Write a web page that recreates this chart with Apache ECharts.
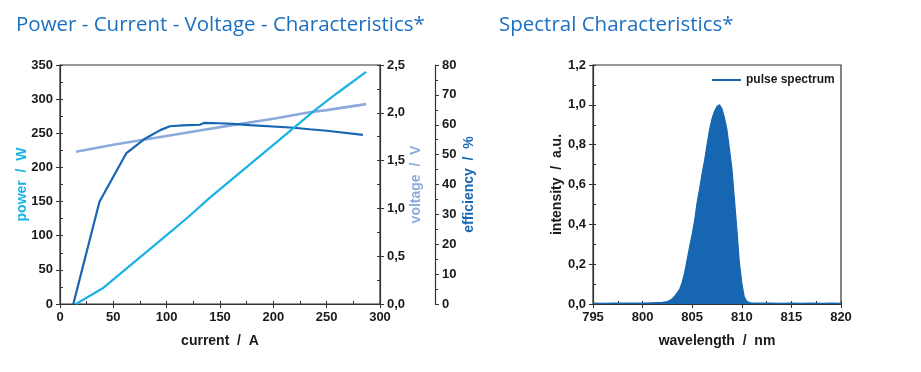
<!DOCTYPE html>
<html>
<head>
<meta charset="utf-8">
<script src="https://cdn.jsdelivr.net/npm/echarts@6/dist/echarts.min.js"></script>
<style>
html,body{margin:0;padding:0;background:#fff;}
#c{width:921px;height:372px;}
</style>
</head>
<body>
<div id="c"></div>
<script>
// ---- Data ----
const powerCurrent = [15, 40, 60, 80, 100, 120, 140, 160, 180, 200, 220, 240, 260, 287];
const powerValues  = [0, 23, 49, 75, 101, 127, 155, 181, 207, 233, 259, 285, 309, 340];

const voltageCurrent = [15, 50, 84, 100, 131, 150, 200, 234, 250, 287];
const voltageValues  = [1.593, 1.665, 1.728, 1.758, 1.815, 1.85, 1.937, 2.005, 2.028, 2.091];

const effCurrent = [12.5, 37, 62, 80, 94, 103, 115, 131, 135, 150, 162, 178, 219, 234, 250, 284];
const effValues  = [0, 34.2, 50.4, 55.4, 58.2, 59.5, 59.8, 60.0, 60.6, 60.5, 60.3, 59.9, 59.0, 58.5, 58.0, 56.6];

const wavelength = [795, 796, 797, 798, 799, 800, 801, 802, 802.5, 802.75, 803, 803.25, 803.5, 803.75,
  804, 804.25, 804.5, 804.75, 805, 805.25, 805.5, 805.75, 806, 806.25, 806.5, 806.75,
  807, 807.25, 807.5, 807.75, 808, 808.25, 808.5, 808.75, 809, 809.25, 809.5, 809.75,
  810, 810.25, 810.5, 810.75, 811, 812, 813, 814, 815, 816, 817, 818, 819, 820];
const intensity = [0.004, 0.003, 0.005, 0.004, 0.005, 0.004, 0.006, 0.008, 0.012, 0.018, 0.027, 0.04, 0.057, 0.075,
  0.11, 0.16, 0.225, 0.29, 0.35, 0.42, 0.51, 0.58, 0.655, 0.72, 0.80, 0.875,
  0.93, 0.968, 0.992, 1.0, 0.98, 0.935, 0.875, 0.78, 0.68, 0.53, 0.375, 0.21,
  0.105, 0.035, 0.013, 0.007, 0.005, 0.004, 0.005, 0.003, 0.004, 0.003, 0.004, 0.003, 0.004, 0.003];

const currentTicks = [0, 300, 50];
const powerTicks = [0, 350, 50];
const voltageTicks = [0, 2.5, 0.5];
const effTicks = [0, 80, 10];
const wlTicks = [795, 820, 5];
const intTicks = [0, 1.2, 0.2];

// ---- Style ----
const C_POWER = '#1ab2e4';
const C_VOLT = '#8eaadc';
const C_EFF = '#1766b4';
const C_SPEC = '#1666b2';
const C_TITLE = '#1d6fc0';
const AX = '#333';
const FONT = 'Liberation Sans, Arial, sans-serif';
const comma = v => v.toFixed(1).replace('.', ',');

const lbl = (extra) => Object.assign({color: '#1a1a1a', fontFamily: FONT, fontWeight: 'bold', fontSize: 13}, extra || {});
const nameStyle = (color) => ({color: color, fontFamily: FONT, fontWeight: 'bold', fontSize: 14});

function mainAxis(o) {
  return Object.assign({
    type: 'value',
    axisLine: {show: true, onZero: false, lineStyle: {color: AX, width: 1.2}},
    axisTick: {show: true, length: 4, lineStyle: {color: AX}},
    minorTick: {show: false},
    splitLine: {show: false},
    axisLabel: lbl({margin: 7})
  }, o);
}
function innerTicks(o) {
  return Object.assign({
    type: 'value',
    axisLine: {show: false, onZero: false},
    axisTick: {show: true, inside: true, length: 3, lineStyle: {color: AX}},
    axisLabel: {show: false},
    splitLine: {show: false}
  }, o);
}

const pairs = (xs, ys) => xs.map((x, i) => [x, ys[i]]);

const chart = echarts.init(document.getElementById('c'), null, {renderer: 'canvas'});
chart.setOption({
  animation: false,
  backgroundColor: '#fff',
  title: [
    {text: 'Power - Current - Voltage - Characteristics*', left: 11, top: 10,
     textStyle: {color: C_TITLE, fontFamily: 'Open Sans', fontWeight: 'normal', fontSize: 20.5}},
    {text: 'Spectral Characteristics*', left: 494, top: 10,
     textStyle: {color: C_TITLE, fontFamily: 'Open Sans', fontWeight: 'normal', fontSize: 20.5}}
  ],
  legend: {
    data: [{name: 'pulse spectrum', icon: 'rect'}],
    left: 707, top: 69,
    itemWidth: 29, itemHeight: 2,
    textStyle: {color: '#1a1a1a', fontFamily: FONT, fontWeight: 'bold', fontSize: 12},
    selectedMode: false
  },
  grid: [
    {left: 60, top: 65, width: 320, height: 239, show: true, borderColor: AX, borderWidth: 1.2, outerBoundsMode: 'none', containLabel: false},
    {left: 593, top: 65, width: 248, height: 239, show: true, borderColor: AX, borderWidth: 1.2, outerBoundsMode: 'none', containLabel: false}
  ],
  xAxis: [
    mainAxis({gridIndex: 0, min: currentTicks[0], max: currentTicks[1], interval: currentTicks[2], position: 'bottom',
      name: 'current  /  A', nameLocation: 'middle', nameGap: 30, nameTextStyle: nameStyle('#1a1a1a')}),
    innerTicks({gridIndex: 0, min: 0, max: 300, interval: 25, position: 'bottom'}),
    mainAxis({gridIndex: 1, min: wlTicks[0], max: wlTicks[1], interval: wlTicks[2], position: 'bottom',
      name: 'wavelength  /  nm', nameLocation: 'middle', nameGap: 30, nameTextStyle: nameStyle('#1a1a1a')}),
    innerTicks({gridIndex: 1, min: 795, max: 820, interval: 2.5, position: 'bottom'})
  ],
  yAxis: [
    mainAxis({gridIndex: 0, min: powerTicks[0], max: powerTicks[1], interval: powerTicks[2], position: 'left',
      name: 'power  /  W', nameLocation: 'middle', nameGap: 31, nameMoveOverlap: false, nameTextStyle: nameStyle(C_POWER)}),
    mainAxis({gridIndex: 0, min: voltageTicks[0], max: voltageTicks[1], interval: voltageTicks[2], position: 'right',
      axisLabel: lbl({margin: 7, formatter: comma}),
      name: 'voltage  /  V', nameLocation: 'middle', nameGap: 28, nameTextStyle: nameStyle(C_VOLT)}),
    mainAxis({gridIndex: 0, min: effTicks[0], max: effTicks[1], interval: effTicks[2], position: 'right', offset: 55,
      minorTick: {show: true, splitNumber: 2, length: 3, lineStyle: {color: AX}},
      name: 'efficiency  /  %', nameLocation: 'middle', nameGap: 27, nameTextStyle: nameStyle(C_EFF)}),
    innerTicks({gridIndex: 0, min: 0, max: 350, interval: 25, position: 'left'}),
    innerTicks({gridIndex: 0, min: 0, max: 2.5, interval: 0.25, position: 'right'}),
    mainAxis({gridIndex: 1, min: intTicks[0], max: intTicks[1], interval: intTicks[2], position: 'left',
      axisLabel: lbl({margin: 7, formatter: comma}),
      name: 'intensity  /  a.u.', nameLocation: 'middle', nameGap: 29, nameTextStyle: nameStyle('#1a1a1a')}),
    innerTicks({gridIndex: 1, min: 0, max: 1.2, interval: 0.1, position: 'left'})
  ],
  series: [
    {name: 'voltage', type: 'line', xAxisIndex: 0, yAxisIndex: 1, data: pairs(voltageCurrent, voltageValues),
     symbol: 'none', lineStyle: {color: C_VOLT, width: 2.6}, z: 2},
    {name: 'efficiency', type: 'line', xAxisIndex: 0, yAxisIndex: 2, data: pairs(effCurrent, effValues),
     symbol: 'none', lineStyle: {color: C_EFF, width: 2.2}, z: 3},
    {name: 'power', type: 'line', xAxisIndex: 0, yAxisIndex: 0, data: pairs(powerCurrent, powerValues),
     symbol: 'none', lineStyle: {color: C_POWER, width: 2.2}, z: 4},
    {name: 'pulse spectrum', type: 'line', xAxisIndex: 2, yAxisIndex: 5, data: pairs(wavelength, intensity),
     symbol: 'none', itemStyle: {color: C_SPEC}, lineStyle: {color: C_SPEC, width: 1.2},
     areaStyle: {color: C_SPEC, opacity: 1}, z: 3}
  ]
});
</script>
</body>
</html>
